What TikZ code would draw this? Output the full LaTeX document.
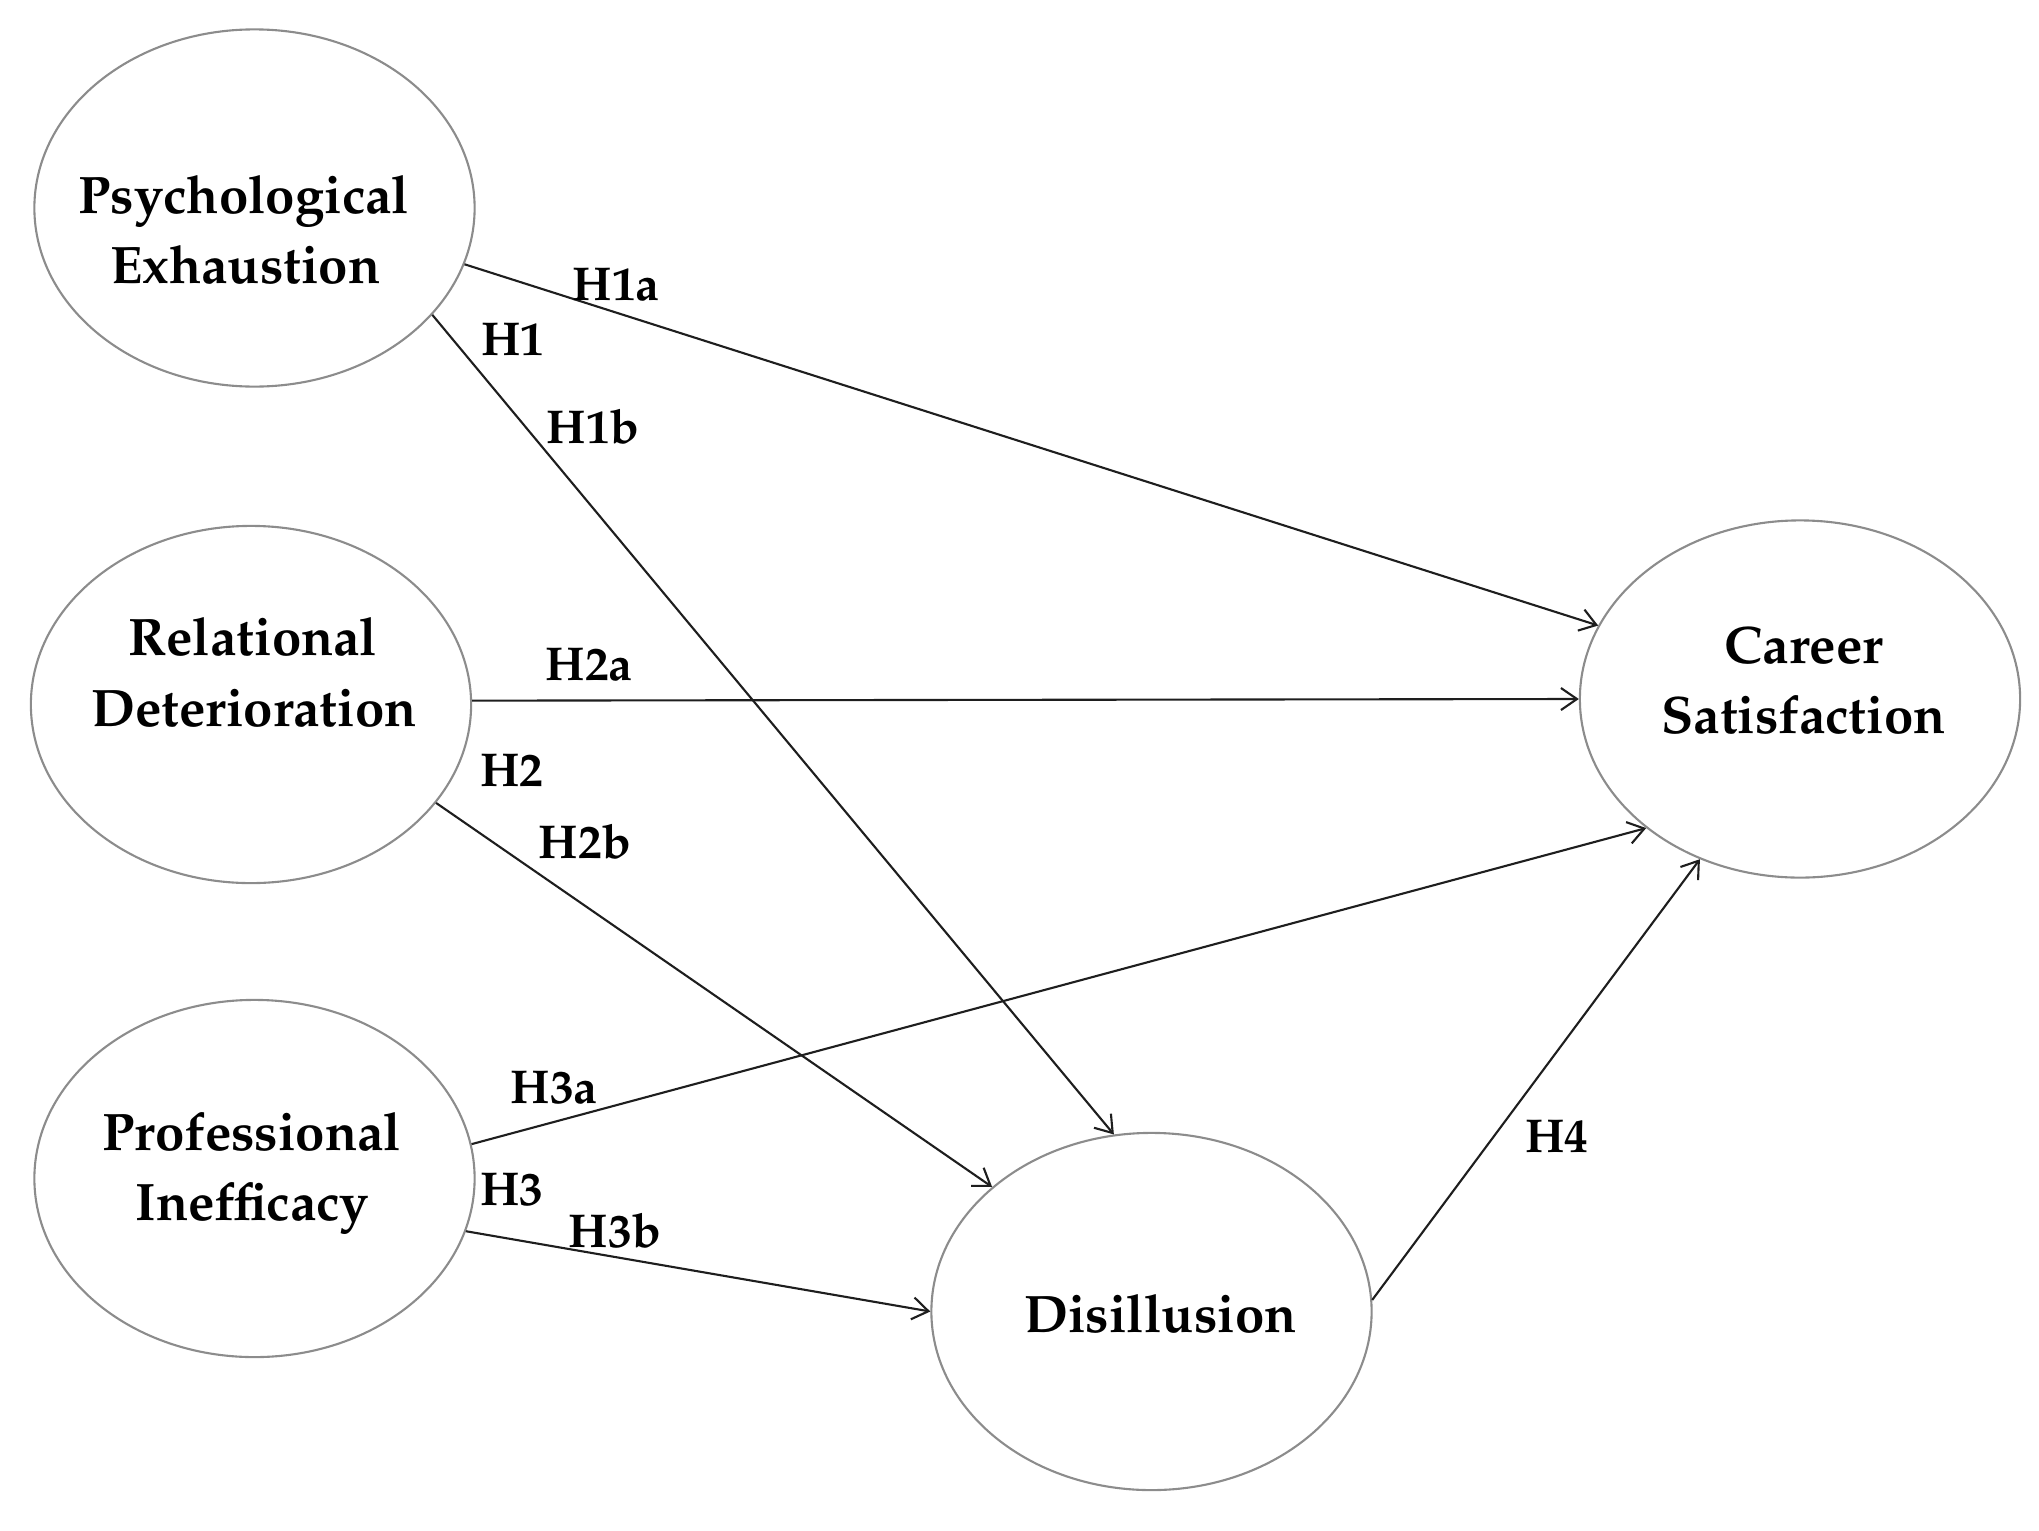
\documentclass[tikz,border=0pt]{standalone}
\usepackage[T1]{fontenc}
\usepackage{mathpazo}
\usetikzlibrary{shapes.geometric,arrows.meta}
\definecolor{ringgray}{HTML}{8C8C8C}
\definecolor{linegray}{HTML}{1E1E1E}
\tikzset{
  construct/.style={ellipse, draw=ringgray, line width=0.6pt, inner sep=0pt,
    minimum width=4.4cm, minimum height=3.57cm},
  ctext/.style={anchor=base, inner sep=0pt, font=\fontsize{15}{18}\selectfont\bfseries},
  hyp/.style={anchor=base, inner sep=0pt, font=\fontsize{13.5}{16}\selectfont\bfseries},
  path/.style={draw=linegray, line width=0.6pt, -{Straight Barb[length=0.16cm,width=0.22cm,line width=0.6pt]}}
}
\begin{document}
\begin{tikzpicture}[x=0.01cm, y=-0.01cm]
\useasboundingbox (0,0) rectangle (2039,1530);
% constructs
\node[construct] (pe) at (254.5,208) {};
\node[construct] (rd) at (251,704.5) {};
\node[construct] (pi) at (254.5,1178.5) {};
\node[construct] (cs) at (1800,699) {};
\node[construct] (di) at (1151.5,1311.5) {};
% construct texts
\node[ctext] (pe1) at (244,213) {Psychological};
\node[ctext] (pe2) at (245.5,283) {Exhaustion};
\node[ctext] (rd1) at (253,655) {Relational};
\node[ctext] (rd2) at (254,726) {Deterioration};
\node[ctext] (pi1) at (252,1150) {Professional};
\node[ctext] (pi2) at (252.5,1220) {Inefficacy};
\node[ctext] (cs1) at (1804,663) {Career};
\node[ctext] (cs2) at (1803.5,733) {Satisfaction};
\node[ctext] (di1) at (1160.5,1332) {Disillusion};
% paths
\draw[path] (pe.-15.8) -- (cs.160);
\draw[path] (pe.-31.1) -- (di.102.4);
\draw[path] (rd.1.7) -- (cs.180);
\draw[path] (rd.-28.7) -- (di.142.5);
\draw[path] (pi.9) -- (cs.220.6);
\draw[path] (pi.-14) -- (di.180);
\draw[path] (di.3) -- (cs.238.2);
% hypothesis labels
\node[hyp] (h1a) at (616,300) {H1a};
\node[hyp] (h1) at (513,355) {H1};
\node[hyp] (h1b) at (593,443) {H1b};
\node[hyp] (h2a) at (589,680) {H2a};
\node[hyp] (h2) at (512,786) {H2};
\node[hyp] (h2b) at (585,858) {H2b};
\node[hyp] (h3a) at (554,1103) {H3a};
\node[hyp] (h3) at (512,1205) {H3};
\node[hyp] (h3b) at (615,1247) {H3b};
\node[hyp] (h4) at (1557,1152) {H4};
\end{tikzpicture}
\end{document}
